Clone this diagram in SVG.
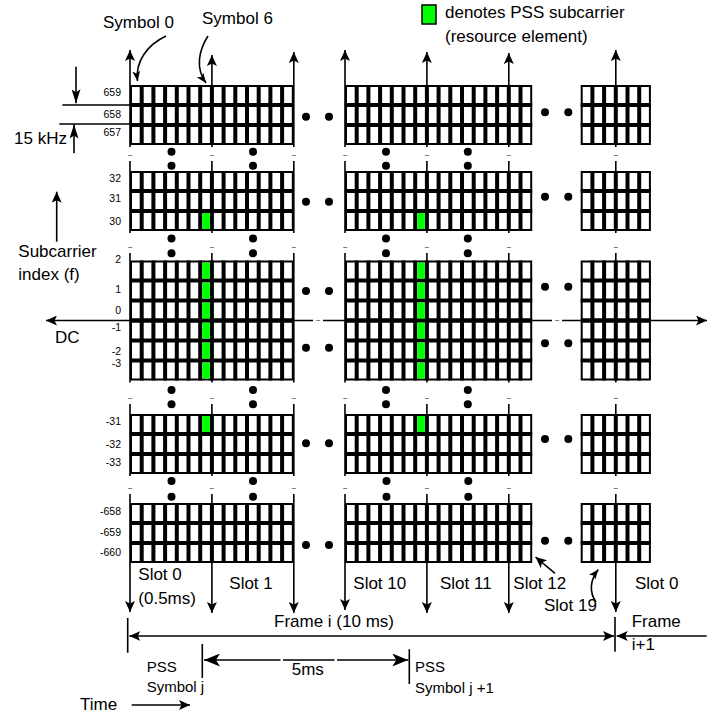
<svg xmlns="http://www.w3.org/2000/svg" xmlns:xlink="http://www.w3.org/1999/xlink" width="725" height="714" viewBox="0 0 725 714">
<style>
.g rect{fill:#fff;stroke:#000;stroke-width:2}
.g path{stroke:#000;stroke-width:4;fill:none}
.ln{stroke:#000;stroke-width:1.6;fill:none}
.t{font-family:"Liberation Sans",Arial,Helvetica,sans-serif;font-size:17px;fill:#000}
.s{font-size:10.5px}
.p{font-size:15px}
.tl{font-size:8px;text-anchor:middle}
.gr{fill:#00ff00}
.d circle{fill:#000;r:4px}
</style>
<defs>
<marker id="a" viewBox="0 0 11 10" refX="11" refY="5" markerWidth="11" markerHeight="10" orient="auto-start-reverse" markerUnits="userSpaceOnUse"><path d="M0,0L11,5L0,10L2.5,5z"/></marker>
<marker id="b" viewBox="0 0 16 13" refX="16" refY="6.5" markerWidth="16" markerHeight="13" orient="auto-start-reverse" markerUnits="userSpaceOnUse"><path d="M0,0L16,6.5L0,13L4,6.5z"/></marker>
<marker id="n" viewBox="0 0 14 9" refX="14" refY="4.5" markerWidth="14" markerHeight="9" orient="auto-start-reverse" markerUnits="userSpaceOnUse"><path d="M0,0L14,4.5L0,9L3,4.5z"/></marker>
<marker id="sm" viewBox="0 0 10 8" refX="10" refY="4" markerWidth="10" markerHeight="8" orient="auto" markerUnits="userSpaceOnUse"><path d="M0,0L10,4L0,8L2.5,4z"/></marker>
<g id="gA" class="g"><rect x="1" y="1" width="161.8" height="58"/><path d="M11.7 0V60M23.4 0V60M35.1 0V60M46.8 0V60M58.5 0V60M70.2 0V60M81.9 0V60M93.6 0V60M105.3 0V60M117 0V60M128.7 0V60M140.4 0V60M152.1 0V60M0 20H163.8M0 40H163.8"/></g>
<g id="gB" class="g"><rect x="1" y="1" width="185.2" height="58"/><path d="M11.7 0V60M23.4 0V60M35.1 0V60M46.8 0V60M58.5 0V60M70.2 0V60M81.9 0V60M93.6 0V60M105.3 0V60M117 0V60M128.7 0V60M140.4 0V60M152.1 0V60M163.8 0V60M175.5 0V60M0 20H187.2M0 40H187.2"/></g>
<g id="gC" class="g"><rect x="1" y="1" width="68.2" height="58"/><path d="M11.7 0V60M23.4 0V60M35.1 0V60M46.8 0V60M58.5 0V60M0 20H70.2M0 40H70.2"/></g>
</defs>
<rect width="725" height="714" fill="#fff"/>

<g id="grid-slots-0-1">
<use xlink:href="#gA" x="130" y="85"/>
<use xlink:href="#gA" x="130" y="171"/>
<use xlink:href="#gA" x="130" y="260.5"/>
<use xlink:href="#gA" x="130" y="320.5"/>
<path d="M130 320.5H293.8" stroke="#000" stroke-width="4"/>
<use xlink:href="#gA" x="130" y="414"/>
<use xlink:href="#gA" x="130" y="503"/>
<rect class="gr" x="202.2" y="213" width="7.7" height="16"/>
<rect class="gr" x="202.2" y="262.5" width="7.7" height="16"/>
<rect class="gr" x="202.2" y="282.5" width="7.7" height="16"/>
<rect class="gr" x="202.2" y="302.5" width="7.7" height="16"/>
<rect class="gr" x="202.2" y="322.5" width="7.7" height="16"/>
<rect class="gr" x="202.2" y="342.5" width="7.7" height="16"/>
<rect class="gr" x="202.2" y="362.5" width="7.7" height="16"/>
<rect class="gr" x="202.2" y="416" width="7.7" height="16"/>
</g>

<g id="grid-slots-10-12">
<use xlink:href="#gB" x="345" y="85"/>
<use xlink:href="#gB" x="345" y="171"/>
<use xlink:href="#gB" x="345" y="260.5"/>
<use xlink:href="#gB" x="345" y="320.5"/>
<path d="M345 320.5H532.2" stroke="#000" stroke-width="4"/>
<use xlink:href="#gB" x="345" y="414"/>
<use xlink:href="#gB" x="345" y="503"/>
<rect class="gr" x="417.2" y="213" width="7.7" height="16"/>
<rect class="gr" x="417.2" y="262.5" width="7.7" height="16"/>
<rect class="gr" x="417.2" y="282.5" width="7.7" height="16"/>
<rect class="gr" x="417.2" y="302.5" width="7.7" height="16"/>
<rect class="gr" x="417.2" y="322.5" width="7.7" height="16"/>
<rect class="gr" x="417.2" y="342.5" width="7.7" height="16"/>
<rect class="gr" x="417.2" y="362.5" width="7.7" height="16"/>
<rect class="gr" x="417.2" y="416" width="7.7" height="16"/>
</g>

<g id="grid-next-frame-slot-0">
<use xlink:href="#gC" x="580.7" y="85"/>
<use xlink:href="#gC" x="580.7" y="171"/>
<use xlink:href="#gC" x="580.7" y="260.5"/>
<use xlink:href="#gC" x="580.7" y="320.5"/>
<path d="M580.7 320.5H650.9" stroke="#000" stroke-width="4"/>
<use xlink:href="#gC" x="580.7" y="414"/>
<use xlink:href="#gC" x="580.7" y="503"/>
</g>

<g id="ellipsis-dots" class="d">
<circle cx="171.5" cy="151.7" r="4"/><circle cx="171.5" cy="165.7" r="4"/>
<circle cx="253" cy="151.7" r="4"/><circle cx="253" cy="165.7" r="4"/>
<circle cx="171.5" cy="238.5" r="4"/><circle cx="171.5" cy="253.3" r="4"/>
<circle cx="253" cy="238.5" r="4"/><circle cx="253" cy="253.3" r="4"/>
<circle cx="171.5" cy="390" r="4"/><circle cx="171.5" cy="404.3" r="4"/>
<circle cx="253" cy="390" r="4"/><circle cx="253" cy="404.3" r="4"/>
<circle cx="171.5" cy="481" r="4"/><circle cx="171.5" cy="496.7" r="4"/>
<circle cx="253" cy="481" r="4"/><circle cx="253" cy="496.7" r="4"/>
<circle cx="386" cy="151.7" r="4"/><circle cx="386" cy="165.7" r="4"/>
<circle cx="467.8" cy="151.7" r="4"/><circle cx="467.8" cy="165.7" r="4"/>
<circle cx="386" cy="238.5" r="4"/><circle cx="386" cy="253.3" r="4"/>
<circle cx="467.8" cy="238.5" r="4"/><circle cx="467.8" cy="253.3" r="4"/>
<circle cx="386" cy="390" r="4"/><circle cx="386" cy="404.3" r="4"/>
<circle cx="467.8" cy="390" r="4"/><circle cx="467.8" cy="404.3" r="4"/>
<circle cx="386.5" cy="481" r="4"/><circle cx="386.5" cy="496.7" r="4"/>
<circle cx="468.3" cy="481" r="4"/><circle cx="468.3" cy="496.7" r="4"/>
<circle cx="306" cy="116.7" r="4"/><circle cx="329" cy="116.7" r="4"/>
<circle cx="306" cy="201.7" r="4"/><circle cx="329" cy="201.7" r="4"/>
<circle cx="306" cy="291" r="4"/><circle cx="329" cy="291" r="4"/>
<circle cx="306" cy="347.7" r="4"/><circle cx="329" cy="347.7" r="4"/>
<circle cx="306" cy="443.3" r="4"/><circle cx="329" cy="443.3" r="4"/>
<circle cx="306" cy="545" r="4"/><circle cx="329" cy="545" r="4"/>
<circle cx="545" cy="112.3" r="4"/><circle cx="568.3" cy="112.3" r="4"/>
<circle cx="545" cy="196.7" r="4"/><circle cx="568.3" cy="196.7" r="4"/>
<circle cx="545" cy="286.7" r="4"/><circle cx="568.3" cy="286.7" r="4"/>
<circle cx="545" cy="343.3" r="4"/><circle cx="568.3" cy="343.3" r="4"/>
<circle cx="545" cy="439" r="4"/><circle cx="568.3" cy="439" r="4"/>
<circle cx="545" cy="540.7" r="4"/><circle cx="568.3" cy="540.7" r="4"/>
</g>

<g id="connectors" class="ln">
<path marker-start="url(#a)" marker-end="url(#a)" d="M130 50V147M130 161V233M130 253V382.5M130 404V476M130 494V612"/>
<path marker-start="url(#a)" marker-end="url(#a)" d="M211.9 55V147M211.9 161V233M211.9 253V382.5M211.9 404V476M211.9 494V613"/>
<path marker-start="url(#a)" marker-end="url(#a)" d="M293.8 52V147M293.8 161V233M293.8 253V382.5M293.8 404V476M293.8 494V613"/>
<path marker-start="url(#a)" marker-end="url(#a)" d="M345 50V147M345 161V233M345 253V382.5M345 404V476M345 494V610"/>
<path marker-start="url(#a)" marker-end="url(#a)" d="M426.9 52V147M426.9 161V233M426.9 253V382.5M426.9 404V476M426.9 494V613"/>
<path marker-start="url(#a)" marker-end="url(#a)" d="M508.8 53V147M508.8 161V233M508.8 253V382.5M508.8 404V476M508.8 494V613"/>
<path marker-start="url(#a)" marker-end="url(#a)" d="M615.8 50V147M615.8 161V233M615.8 253V382.5M615.8 404V476M615.8 494V612"/>
<path marker-end="url(#a)" d="M130 320.5H46"/>
<path d="M293.8 320.5H313M323 320.5H345M532.2 320.5H552M562 320.5H580.7"/>
<path marker-end="url(#a)" d="M650.9 320.5H707"/>
<path marker-end="url(#sm)" d="M166 36C147 45 135 62 137.5 81"/>
<path marker-end="url(#sm)" d="M208 36C199 50 195 68 206 83"/>
<path d="M62.3 105H130M59.3 124H130"/>
<path marker-end="url(#n)" d="M76 66.7V103.3"/>
<path marker-end="url(#n)" d="M74 153.3V124.5"/>
<path marker-end="url(#a)" d="M56.7 241.7V191.7"/>
<path marker-end="url(#a)" d="M555 573.3L535.5 557"/>
<path marker-end="url(#sm)" d="M596 602C589 592 590 580 598.3 569.5"/>
<path marker-start="url(#a)" marker-end="url(#a)" d="M129.3 636H614"/>
<path marker-end="url(#a)" d="M706.7 636H616.7"/>
<path d="M127.7 618V652.7M615 617V651.7M202.3 644V678M409.3 649.3V684"/>
<path marker-start="url(#b)" marker-end="url(#b)" d="M204 660H280.5M283 660H334.5M337 660H408.3"/>
<path marker-end="url(#a)" d="M131.7 705H190"/>
</g>

<g id="break-marks" class="t tl">
<text x="130 211.9 293.8 345 426.9 508.8 615.8 130 211.9 293.8 345 426.9 508.8 615.8 130 211.9 293.8 345 426.9 508.8 615.8 130 211.9 293.8 345 426.9 508.8 615.8 318 557" y="157.7 157.7 157.7 157.7 157.7 157.7 157.7 249.7 249.7 249.7 249.7 249.7 249.7 249.7 400.7 400.7 400.7 400.7 400.7 400.7 400.7 490.7 490.7 490.7 490.7 490.7 490.7 490.7 323 323">~~~~~~~~~~~~~~~~~~~~~~~~~~~~~~</text>
</g>

<g id="row-labels" class="t s" text-anchor="end">
<text x="121" y="96">659</text>
<text x="121" y="118">658</text>
<text x="121" y="136">657</text>
<text x="121" y="182">32</text>
<text x="121" y="202">31</text>
<text x="121" y="225">30</text>
<text x="121" y="263">2</text>
<text x="121" y="293">1</text>
<text x="121" y="314">0</text>
<text x="121" y="331">-1</text>
<text x="121" y="355">-2</text>
<text x="121" y="367">-3</text>
<text x="121" y="425">-31</text>
<text x="121" y="448">-32</text>
<text x="121" y="466">-33</text>
<text x="121" y="515">-658</text>
<text x="121" y="536">-659</text>
<text x="121" y="556">-660</text>
</g>

<g id="legend">
<rect x="422" y="5" width="14" height="19" fill="#00ff00" stroke="#000" stroke-width="1.5"/>
<text class="t" x="445" y="17.5">denotes PSS subcarrier</text>
<text class="t" x="445" y="41.5">(resource element)</text>
</g>

<g id="labels" class="t">
<text x="103" y="28">Symbol 0</text>
<text x="202" y="24">Symbol 6</text>
<text x="14" y="144">15 kHz</text>
<text x="18.3" y="257">Subcarrier</text>
<text x="18.3" y="280">index (f)</text>
<text x="55" y="343">DC</text>
<text x="138.3" y="580">Slot 0</text>
<text x="138.3" y="604.3">(0.5ms)</text>
<text x="229.3" y="589.3">Slot 1</text>
<text x="353.3" y="589">Slot 10</text>
<text x="440" y="589">Slot 11</text>
<text x="513.3" y="589">Slot 12</text>
<text x="544" y="610.7">Slot 19</text>
<text x="635" y="589">Slot 0</text>
<text x="274" y="626.7">Frame i (10 ms)</text>
<text x="631.7" y="627">Frame</text>
<text x="631.7" y="650">i+1</text>
<text x="291.7" y="675">5ms</text>
<text class="p" x="146.7" y="672.3">PSS</text>
<text class="p" x="146.7" y="692.3">Symbol j</text>
<text class="p" x="415" y="671.7">PSS</text>
<text class="p" x="415" y="693.3">Symbol j +1</text>
<text x="80" y="710">Time</text>
</g>
</svg>
